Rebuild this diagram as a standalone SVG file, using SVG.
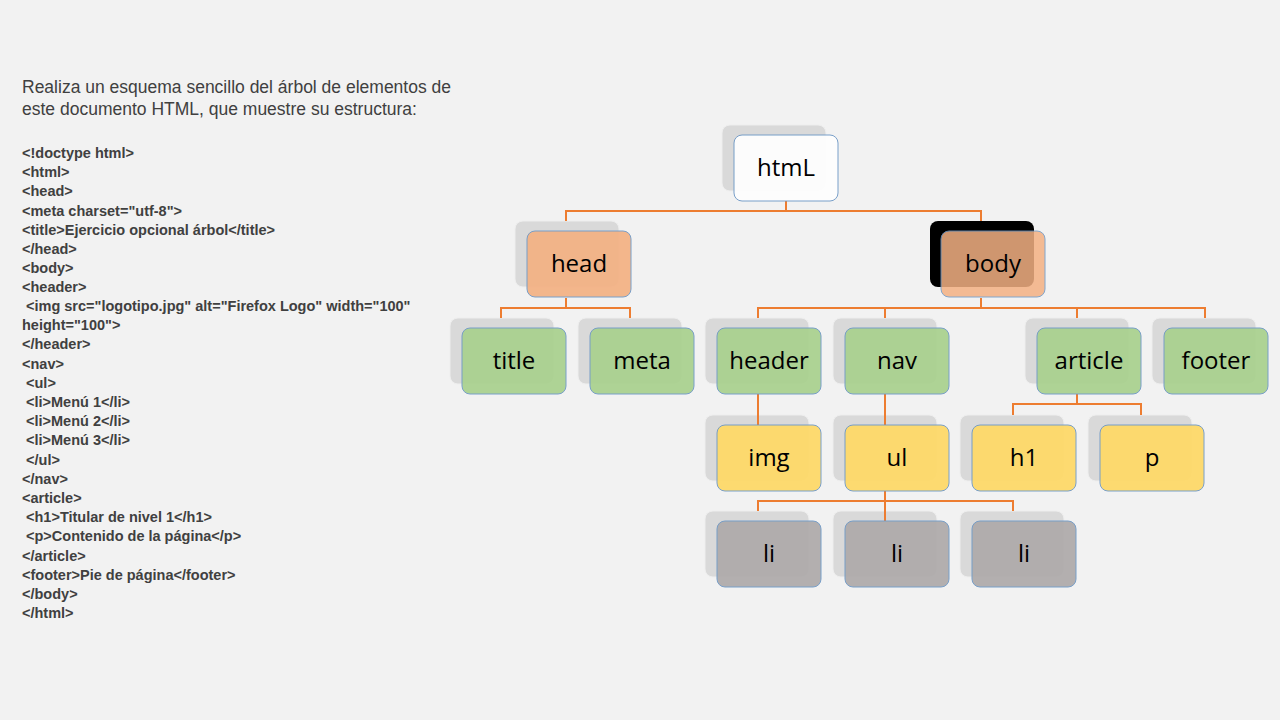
<svg xmlns="http://www.w3.org/2000/svg" width="1280" height="720" viewBox="0 0 1280 720">
<style>
.bk{fill:#d9d9d9;stroke:#eeeeee;stroke-width:1}
.fr{stroke:#6f99c6;stroke-width:1;opacity:0.92}
.t{font-family:"Open Sans","Liberation Sans",sans-serif;font-size:24px;fill:#000;text-anchor:middle}
.c{font-family:"Liberation Sans",Arial,sans-serif;font-size:14.5px;font-weight:bold;fill:#404040}
.h{font-family:"Liberation Sans",Arial,sans-serif;font-size:17.5px;fill:#404040}
.ln{fill:none;stroke:#ed7d31;stroke-width:2}
</style>
<defs>
<rect id="b" width="104" height="66" rx="8"/>
</defs>
<rect width="1280" height="720" fill="#f2f2f2"/>
<g id="intro">
<text class="h" x="22" y="93">Realiza un esquema sencillo del árbol de elementos de</text>
<text class="h" x="22" y="115">este documento HTML, que muestre su estructura:</text>
</g>
<g id="code" class="c">
<text x="22" y="158">&lt;!doctype html&gt;</text>
<text x="22" y="177">&lt;html&gt;</text>
<text x="22" y="196">&lt;head&gt;</text>
<text x="22" y="216">&lt;meta charset="utf-8"&gt;</text>
<text x="22" y="235">&lt;title&gt;Ejercicio opcional árbol&lt;/title&gt;</text>
<text x="22" y="254">&lt;/head&gt;</text>
<text x="22" y="273">&lt;body&gt;</text>
<text x="22" y="292">&lt;header&gt;</text>
<text x="22" y="311"> &#160;&lt;img src="logotipo.jpg" alt="Firefox Logo" width="100"</text>
<text x="22" y="330">height="100"&gt;</text>
<text x="22" y="349">&lt;/header&gt;</text>
<text x="22" y="369">&lt;nav&gt;</text>
<text x="22" y="388">&#160;&lt;ul&gt;</text>
<text x="22" y="407">&#160;&lt;li&gt;Menú 1&lt;/li&gt;</text>
<text x="22" y="426">&#160;&lt;li&gt;Menú 2&lt;/li&gt;</text>
<text x="22" y="445">&#160;&lt;li&gt;Menú 3&lt;/li&gt;</text>
<text x="22" y="465">&#160;&lt;/ul&gt;</text>
<text x="22" y="484">&lt;/nav&gt;</text>
<text x="22" y="503">&lt;article&gt;</text>
<text x="22" y="522">&#160;&lt;h1&gt;Titular de nivel 1&lt;/h1&gt;</text>
<text x="22" y="541">&#160;&lt;p&gt;Contenido de la página&lt;/p&gt;</text>
<text x="22" y="561">&lt;/article&gt;</text>
<text x="22" y="580">&lt;footer&gt;Pie de página&lt;/footer&gt;</text>
<text x="22" y="599">&lt;/body&gt;</text>
<text x="22" y="618">&lt;/html&gt;</text>
</g>
<g id="backs">
<use href="#b" class="bk" x="722" y="125"/>
<use href="#b" class="bk" x="515" y="221"/>
<use href="#b" x="930" y="221" fill="#000"/>
<use href="#b" class="bk" x="450" y="318"/>
<use href="#b" class="bk" x="578" y="318"/>
<use href="#b" class="bk" x="705" y="318"/>
<use href="#b" class="bk" x="833" y="318"/>
<use href="#b" class="bk" x="1025" y="318"/>
<use href="#b" class="bk" x="1152" y="318"/>
<use href="#b" class="bk" x="705" y="415"/>
<use href="#b" class="bk" x="833" y="415"/>
<use href="#b" class="bk" x="960" y="415"/>
<use href="#b" class="bk" x="1088" y="415"/>
<use href="#b" class="bk" x="705" y="511"/>
<use href="#b" class="bk" x="833" y="511"/>
<use href="#b" class="bk" x="960" y="511"/>
</g>
<g id="connectors" class="ln">
<path d="M786,201V211M566,221V211H981V221"/>
<path d="M566,298V308M501,318V308H630V318"/>
<path d="M981,298V308M758,318V308H1205V318M885,308V318M1077,308V318"/>
<path d="M758,394V425M885,394V425"/>
<path d="M1077,394V404M1013,415V404H1141V415"/>
<path d="M885,491V501M758,511V501H1013V511M885,501V521"/>
</g>
<g id="html"><use href="#b" class="fr" x="734" y="135" fill="#ffffff"/><text class="t" x="786" y="176">htmL</text></g>
<g id="head"><use href="#b" class="fr" x="527" y="231" fill="#f4b183"/><text class="t" x="579" y="272">head</text></g>
<g id="body"><use href="#b" class="fr" x="941" y="231" fill="#f4b183" style="opacity:0.85"/><text class="t" x="993" y="272">body</text></g>
<g id="title"><use href="#b" class="fr" x="462" y="328" fill="#a9d18e"/><text class="t" x="514" y="369">title</text></g>
<g id="meta"><use href="#b" class="fr" x="590" y="328" fill="#a9d18e"/><text class="t" x="642" y="369">meta</text></g>
<g id="header"><use href="#b" class="fr" x="717" y="328" fill="#a9d18e"/><text class="t" x="769" y="369">header</text></g>
<g id="nav"><use href="#b" class="fr" x="845" y="328" fill="#a9d18e"/><text class="t" x="897" y="369">nav</text></g>
<g id="article"><use href="#b" class="fr" x="1037" y="328" fill="#a9d18e"/><text class="t" x="1089" y="369">article</text></g>
<g id="footer"><use href="#b" class="fr" x="1164" y="328" fill="#a9d18e"/><text class="t" x="1216" y="369">footer</text></g>
<g id="img"><use href="#b" class="fr" x="717" y="425" fill="#ffd966"/><text class="t" x="769" y="466">img</text></g>
<g id="ul"><use href="#b" class="fr" x="845" y="425" fill="#ffd966"/><text class="t" x="897" y="466">ul</text></g>
<g id="h1"><use href="#b" class="fr" x="972" y="425" fill="#ffd966"/><text class="t" x="1024" y="466">h1</text></g>
<g id="p"><use href="#b" class="fr" x="1100" y="425" fill="#ffd966"/><text class="t" x="1152" y="466">p</text></g>
<g id="li1"><use href="#b" class="fr" x="717" y="521" fill="#aeaaaa"/><text class="t" x="769" y="562">li</text></g>
<g id="li2"><use href="#b" class="fr" x="845" y="521" fill="#aeaaaa"/><text class="t" x="897" y="562">li</text></g>
<g id="li3"><use href="#b" class="fr" x="972" y="521" fill="#aeaaaa"/><text class="t" x="1024" y="562">li</text></g>
</svg>
